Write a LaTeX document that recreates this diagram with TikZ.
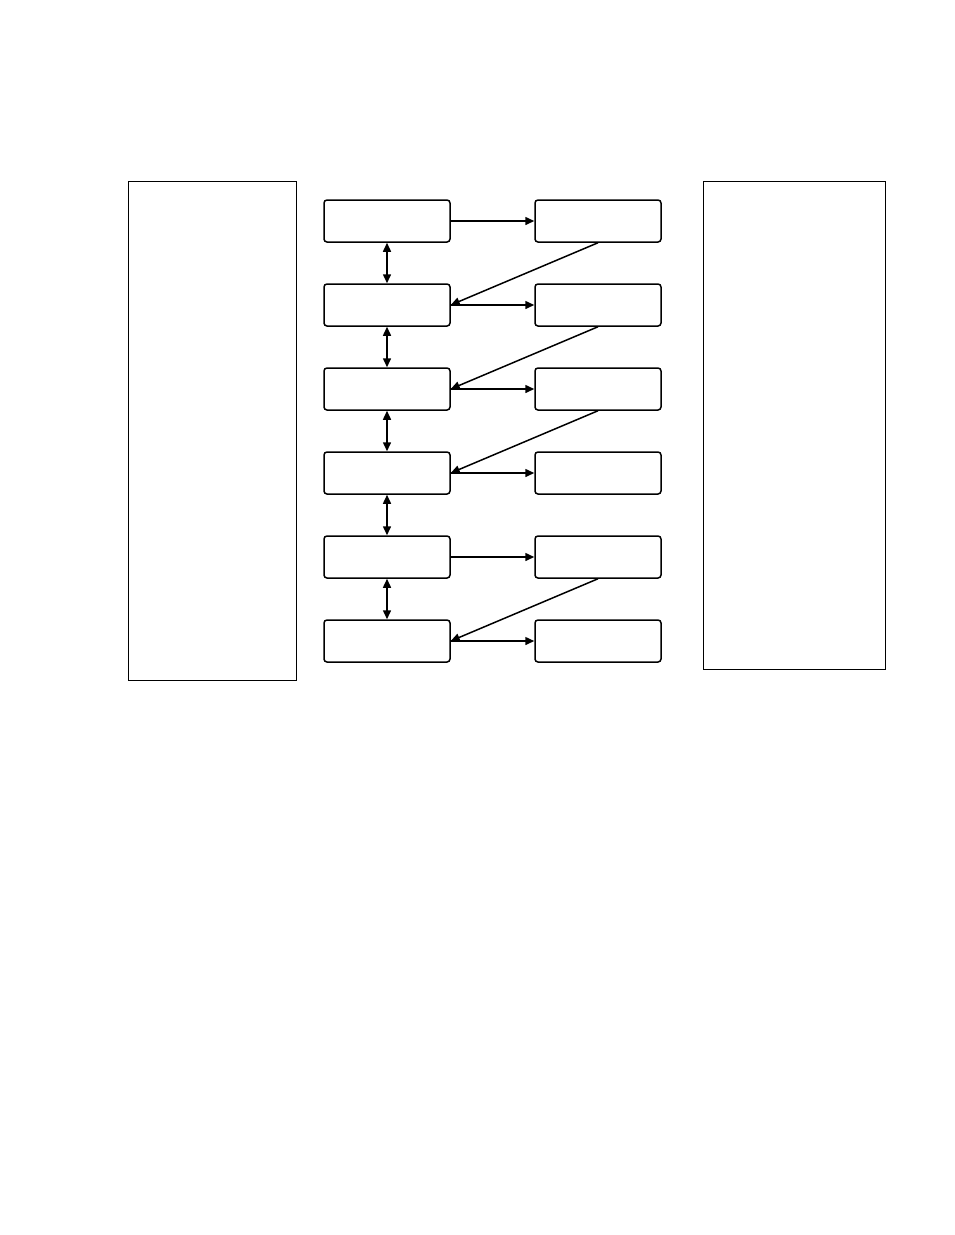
\documentclass[tikz,border=0pt]{standalone}
\usepackage{tikz}
\usetikzlibrary{matrix,arrows.meta}

\tikzset{
    stage/.style={draw,rounded corners=3pt,minimum width=126pt,minimum height=42pt,inner sep=0pt},
    panel/.style={draw,line width=1.4pt,anchor=north west,inner sep=0pt},
    flow/.style={-{Triangle[length=9pt,width=8pt]}},
    link/.style={{Triangle[length=9pt,width=8pt]}-{Triangle[length=9pt,width=8pt]}}
}

\begin{document}
\begin{tikzpicture}[x=1pt,y=-1pt,line width=1.5pt]
    \useasboundingbox (0,0) rectangle (954,1235);
    \node[panel,minimum width=168pt,minimum height=499pt] (lpanel) at (128,181) {};
    \node[panel,minimum width=182pt,minimum height=488pt] (rpanel) at (703,181) {};
    \matrix(steps)[matrix of nodes, nodes in empty cells,
        nodes={stage},
        column sep=83.5pt, row sep=40.5pt, inner sep=0pt
    ] at (492.5,431) {
        & \\
        & \\
        & \\
        & \\
        & \\
        & \\
    };
    \foreach \i in {1,...,6}
        \draw[flow] (steps-\i-1.east) -- (steps-\i-2.west);
    \foreach \i [evaluate=\i as \j using int(\i+1)] in {1,...,5}
        \draw[link] (steps-\i-1.south) -- (steps-\j-1.north);
    \foreach \i [evaluate=\i as \j using int(\i+1)] in {1,2,3,5}
        \draw[flow] (steps-\i-2.south) -- (steps-\j-1.east);
\end{tikzpicture}
\end{document}
